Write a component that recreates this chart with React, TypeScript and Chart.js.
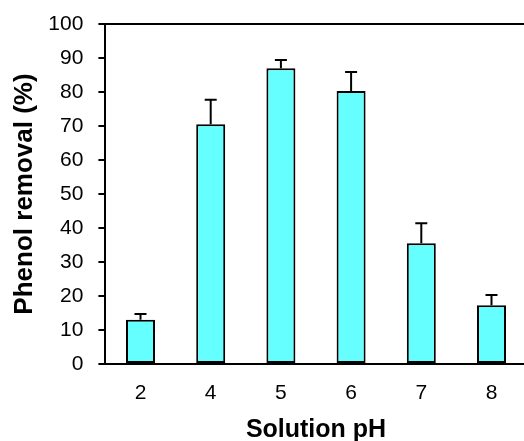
import React, { useEffect, useRef } from "react";
import { Chart, registerables } from "chart.js";

Chart.register(...registerables);

const categories = ["2", "4", "5", "6", "7", "8"];
const removal = [13, 70.5, 87, 80.3, 35.5, 17.3];
const errors = [1.7, 7.2, 2.4, 5.6, 5.9, 3.0];
const yTicks = [0, 10, 20, 30, 40, 50, 60, 70, 80, 90, 100];

const errorBarPlugin = {
  id: "errorBars",
  afterDatasetsDraw(chart: any) {
    const meta = chart.getDatasetMeta(0);
    const yScale = chart.scales.y;
    const ctx = chart.ctx;
    ctx.save();
    ctx.strokeStyle = "#000";
    ctx.lineWidth = 2;
    meta.data.forEach((bar: any, i: number) => {
      const x = bar.x;
      const yTop = yScale.getPixelForValue(removal[i] + errors[i]);
      const yVal = yScale.getPixelForValue(removal[i]);
      ctx.beginPath();
      ctx.moveTo(x, yVal);
      ctx.lineTo(x, yTop);
      ctx.moveTo(x - 6, yTop);
      ctx.lineTo(x + 6, yTop);
      ctx.stroke();
    });
    ctx.restore();
  },
};

export default function App() {
  const ref = useRef<HTMLCanvasElement | null>(null);
  useEffect(() => {
    if (!ref.current) return;
    const chart = new Chart(ref.current, {
      type: "bar",
      data: {
        labels: categories,
        datasets: [
          {
            data: removal,
            backgroundColor: "#66FFFF",
            borderColor: "#000",
            borderWidth: 2,
            borderSkipped: false,
            categoryPercentage: 1,
            barPercentage: 0.413,
          },
        ],
      },
      options: {
        animation: false,
        responsive: false,
        devicePixelRatio: 1,
        layout: { padding: { left: 11.5, right: 3.4, top: 24, bottom: 0 } },
        plugins: { legend: { display: false }, tooltip: { enabled: false } },
        scales: {
          x: {
            grid: { display: false, drawTicks: false },
            border: { display: true, color: "#000", width: 2 },
            ticks: {
              color: "#000",
              padding: 17,
              font: { family: "Liberation Sans, Arial, sans-serif", size: 21 },
            },
            title: {
              display: true,
              text: "Solution pH",
              color: "#000",
              padding: 0,
              font: { family: "Liberation Sans, Arial, sans-serif", size: 25, weight: "bold", lineHeight: 0.9 },
            },
            afterFit: (s: any) => {
              s.height = 77;
              s.paddingLeft = 0;
              s.paddingRight = 0;
            },
          },
          y: {
            min: 0,
            max: 100,
            afterBuildTicks: (s: any) => {
              s.ticks = yTicks.map((v) => ({ value: v }));
            },
            grid: {
              color: (c: any) => (c.tick && c.tick.value === 100 ? "#000" : "rgba(0,0,0,0)"),
              tickColor: "#000",
              lineWidth: 2,
              tickLength: 7,
              drawTicks: true,
            },
            border: { display: true, color: "#000", width: 2 },
            ticks: {
              color: "#000",
              padding: 15,
              font: { family: "Liberation Sans, Arial, sans-serif", size: 21 },
            },
            title: {
              display: true,
              text: "Phenol removal (%)",
              color: "#000",
              padding: 0,
              font: { family: "Liberation Sans, Arial, sans-serif", size: 26, weight: "bold", lineHeight: 1 },
            },
            afterFit: (s: any) => {
              s.width = 93.9;
              s.paddingTop = 0;
              s.paddingBottom = 0;
            },
          },
        },
      },
      plugins: [errorBarPlugin],
    });
    return () => chart.destroy();
  }, []);
  return (
    <div style={{ position: "absolute", left: 0, top: 0, width: 524, height: 441, overflow: "hidden", background: "#fff" }}>
      <canvas ref={ref} width={530} height={441} style={{ display: "block", width: 530, height: 441 }} />
    </div>
  );
}
